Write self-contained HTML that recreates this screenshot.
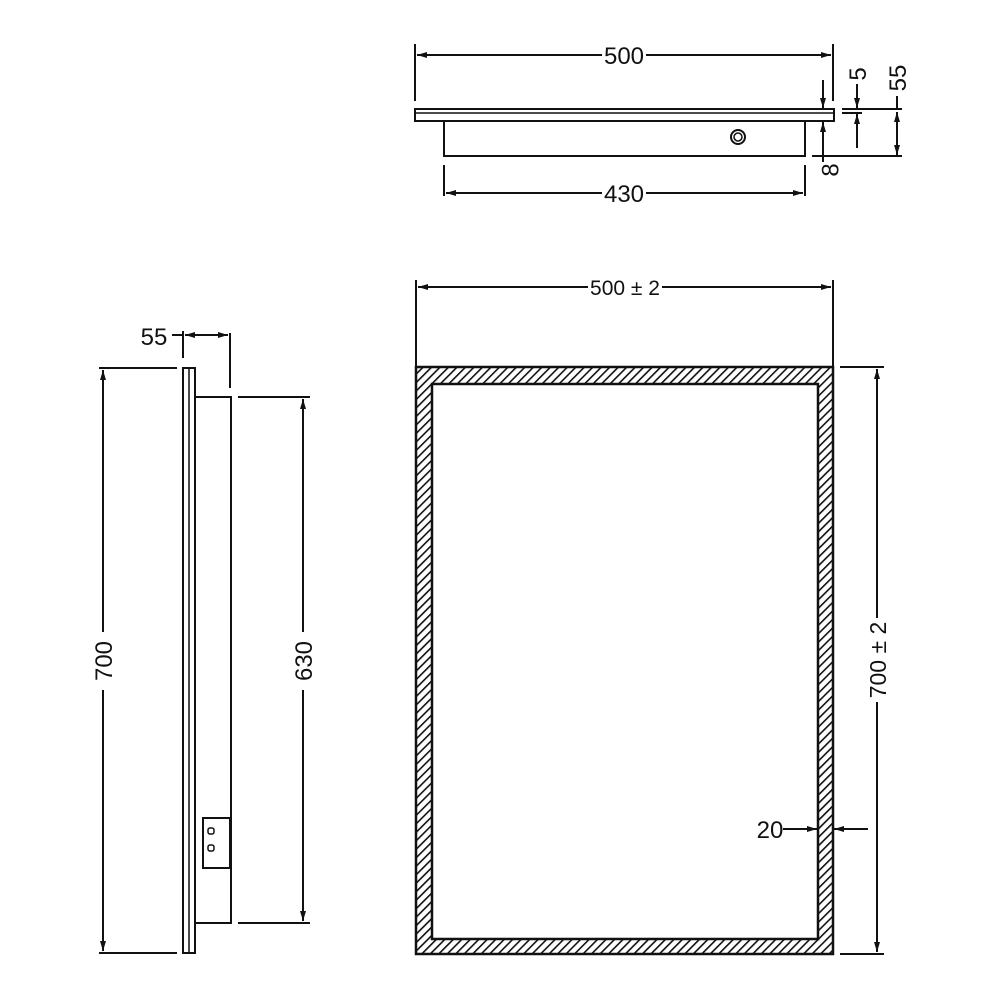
<!DOCTYPE html>
<html><head><style>body{margin:0;background:#fff}svg{display:block}</style></head><body>
<svg width="1000" height="1000" viewBox="0 0 1000 1000" xmlns="http://www.w3.org/2000/svg" font-family="Liberation Sans, sans-serif">
<defs>
<pattern id="h" patternUnits="userSpaceOnUse" width="6" height="6" patternTransform="rotate(45)">
<rect width="6" height="6" fill="#fff"/><line x1="0" y1="0" x2="0" y2="6" stroke="#111" stroke-width="3.2"/>
</pattern>
<marker id="a" viewBox="0 0 10 6" refX="10" refY="3" markerWidth="14" markerHeight="6" markerUnits="userSpaceOnUse" orient="auto-start-reverse"><path d="M0,0L10,3L0,6z" fill="#111"/></marker>
</defs>
<g stroke="#111" stroke-width="2" fill="none">
<rect x="415" y="109" width="419" height="12"/>
<line x1="415" y1="113" x2="834" y2="113" stroke-width="1.5"/>
<rect x="444" y="121" width="361" height="35"/>
<circle cx="738" cy="137" r="7"/><circle cx="738" cy="137" r="4" stroke-width="1.5"/>
<line x1="415" y1="44" x2="415" y2="101"/><line x1="833" y1="44" x2="833" y2="101"/>
<line x1="417" y1="55" x2="602" y2="55" marker-start="url(#a)"/><line x1="646" y1="55" x2="831" y2="55" marker-end="url(#a)"/>
<line x1="444" y1="165" x2="444" y2="196"/><line x1="805" y1="165" x2="805" y2="196"/>
<line x1="446" y1="193" x2="602" y2="193" marker-start="url(#a)"/><line x1="646" y1="193" x2="803" y2="193" marker-end="url(#a)"/>
<line x1="823" y1="80" x2="823" y2="108" marker-end="url(#a)"/><line x1="823" y1="162" x2="823" y2="122" marker-end="url(#a)"/>
<line x1="842" y1="109" x2="902" y2="109"/><line x1="842" y1="113" x2="862" y2="113"/>
<line x1="812" y1="156" x2="902" y2="156"/>
<line x1="857" y1="84" x2="857" y2="108" marker-end="url(#a)"/><line x1="857" y1="148" x2="857" y2="114" marker-end="url(#a)"/>
<line x1="897" y1="96" x2="897" y2="110"/><line x1="897" y1="112" x2="897" y2="155" marker-start="url(#a)" marker-end="url(#a)"/>
<rect x="183" y="368" width="12" height="585"/>
<line x1="189" y1="368" x2="189" y2="953" stroke-width="1.5"/>
<rect x="195" y="397" width="36" height="526"/>
<rect x="203" y="818" width="27" height="50"/>
<line x1="183" y1="331" x2="183" y2="358"/><line x1="230" y1="333" x2="230" y2="388"/>
<line x1="172" y1="335" x2="183" y2="335"/><line x1="185" y1="335" x2="228" y2="335" marker-start="url(#a)" marker-end="url(#a)"/>
<line x1="99" y1="368" x2="177" y2="368"/><line x1="99" y1="953" x2="177" y2="953"/>
<line x1="103" y1="370" x2="103" y2="632" marker-start="url(#a)"/><line x1="103" y1="690" x2="103" y2="951" marker-end="url(#a)"/>
<line x1="238" y1="397" x2="310" y2="397"/><line x1="238" y1="923" x2="310" y2="923"/>
<line x1="303" y1="399" x2="303" y2="632" marker-start="url(#a)"/><line x1="303" y1="690" x2="303" y2="921" marker-end="url(#a)"/>
<path d="M416,367H833V954H416Z M432,384V939H818V384Z" fill="url(#h)" fill-rule="evenodd" stroke-width="2.5"/>
<line x1="416" y1="280" x2="416" y2="367"/><line x1="833" y1="280" x2="833" y2="367"/>
<line x1="418" y1="287" x2="588" y2="287" marker-start="url(#a)"/><line x1="662" y1="287" x2="831" y2="287" marker-end="url(#a)"/>
<line x1="840" y1="367" x2="884" y2="367"/><line x1="840" y1="954" x2="884" y2="954"/>
<line x1="877" y1="369" x2="877" y2="618" marker-start="url(#a)"/><line x1="877" y1="702" x2="877" y2="952" marker-end="url(#a)"/>
<line x1="783" y1="829" x2="817" y2="829" marker-end="url(#a)"/><line x1="868" y1="829" x2="834" y2="829" marker-end="url(#a)"/>
</g>
<g fill="none" stroke="#111" stroke-width="1.5">
<rect x="208" y="828" width="6" height="6" rx="2"/>
<rect x="208" y="845" width="6" height="6" rx="2"/>
</g>
<g fill="#111" font-size="24" text-anchor="middle">
<text x="624" y="64">500</text>
<text x="624" y="202">430</text>
<text x="154" y="345">55</text>
<text x="770" y="838">20</text>
<text font-size="21" x="625" y="295">500 ± 2</text>
<text transform="translate(832,170) rotate(-90)" dominant-baseline="middle">8</text>
<text transform="translate(866,74) rotate(-90)">5</text>
<text transform="translate(906,78) rotate(-90)">55</text>
<text transform="translate(112,661) rotate(-90)">700</text>
<text transform="translate(312,661) rotate(-90)">630</text>
<text transform="translate(886,660) rotate(-90)" font-size="23">700 ± 2</text>
</g>
</svg>
</body></html>
